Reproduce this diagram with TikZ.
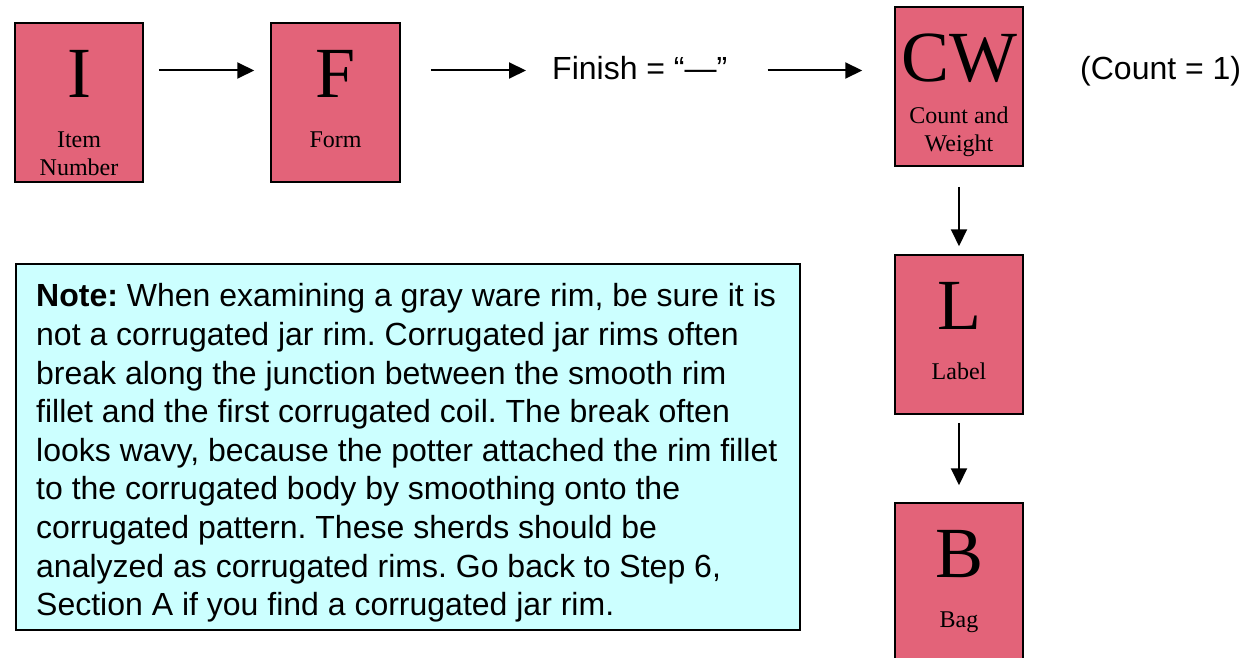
\documentclass[tikz,border=0pt]{standalone}
\usepackage{fontspec}
\setmainfont{Liberation Serif}
\newfontfamily\arialfont{Liberation Sans}
\usetikzlibrary{arrows.meta}
\definecolor{cardpink}{RGB}{227,99,121}
\definecolor{notecyan}{RGB}{204,255,255}
\newcommand{\cardtext}[1]{\begin{tabular}[t]{@{}c@{}}#1\end{tabular}}
\frenchspacing

\begin{document}
\begin{tikzpicture}[x=1pt,y=-1pt,
  card/.style={draw=black,line width=1.5pt,fill=cardpink,minimum width=128pt,minimum height=159pt,inner sep=0pt},
  letter/.style={anchor=base,inner sep=0pt,font=\fontsize{72}{80}\selectfont},
  caption/.style={anchor=base,inner sep=0pt,font=\fontsize{24}{28}\selectfont},
  plain/.style={anchor=base west,inner sep=0pt,font=\arialfont\fontsize{32}{36.8}\selectfont},
  flow/.style={line width=2pt,-{Triangle[length=17pt,width=16pt]}}]
  \useasboundingbox (0,0) rectangle (1250,658);
  \coordinate (row) at (0,70.5);

  % cards
  \node[card] (I) at (79,102.5) {};
  \node[card,minimum width=129pt] (F) at (335.5,102.5) {};
  \node[card] (CW) at (959,86.5) {};
  \node[card] (L) at (959,334.5) {};
  \node[card] (B) at (959,582.5) {};

  \node[letter] (Iletter) at ([yshift=-75pt]I.north) {I};
  \node[caption] (Itext) at ([yshift=-125pt]I.north) {\cardtext{Item\\Number}};
  \node[letter] (Fletter) at ([yshift=-75pt]F.north) {F};
  \node[caption] (Ftext) at ([yshift=-125pt]F.north) {Form};
  \node[letter] (CWletter) at ([yshift=-75pt]CW.north) {CW};
  \node[caption] (CWtext) at ([yshift=-117pt]CW.north) {\cardtext{Count and\\Weight}};
  \node[letter] (Lletter) at ([yshift=-75pt]L.north) {L};
  \node[caption] (Ltext) at ([yshift=-125pt]L.north) {Label};
  \node[letter] (Bletter) at ([yshift=-75pt]B.north) {B};
  \node[caption] (Btext) at ([yshift=-125pt]B.north) {Bag};

  % texts
  \node[plain] (finish) at (552,80) {Finish = “—”};
  \node[plain] (count) at (1080,80) {(Count = 1)};

  % note
  \node[draw=black,line width=1.5pt,fill=notecyan,anchor=north west,
    minimum width=784pt,minimum height=366pt] (note) at (15,263) {};
  \node[anchor=north west,inner sep=0pt,align=left,
    font=\arialfont\fontsize{32}{38.6}\selectfont] (notetext) at ([xshift=21pt,yshift=-20.5pt]note.north west)
    {\textbf{Note:} When examining a gray ware rim, be sure it is\\
     not a corrugated jar rim. Corrugated jar rims often\\
     break along the junction between the smooth rim\\
     fillet and the first corrugated coil. The break often\\
     looks wavy, because the potter attached the rim fillet\\
     to the corrugated body by smoothing onto the\\
     corrugated pattern. These sherds should be\\
     analyzed as corrugated rims. Go back to Step 6,\\
     Section A if you find a corrugated jar rim.};

  % arrows
  \draw[flow,shorten <=15pt,shorten >=16pt] (I.east |- row) -- (F.west |- row);
  \draw[flow,shorten <=30pt,shorten >=26pt] (F.east |- row) -- (finish.west |- row);
  \draw[flow,shorten <=40pt,shorten >=32pt] (finish.east |- row) -- (CW.west |- row);
  \draw[flow,shorten <=20pt,shorten >=8pt] (CW) -- (L);
  \draw[flow,shorten <=8pt,shorten >=17pt] (L) -- (B);
\end{tikzpicture}
\end{document}
